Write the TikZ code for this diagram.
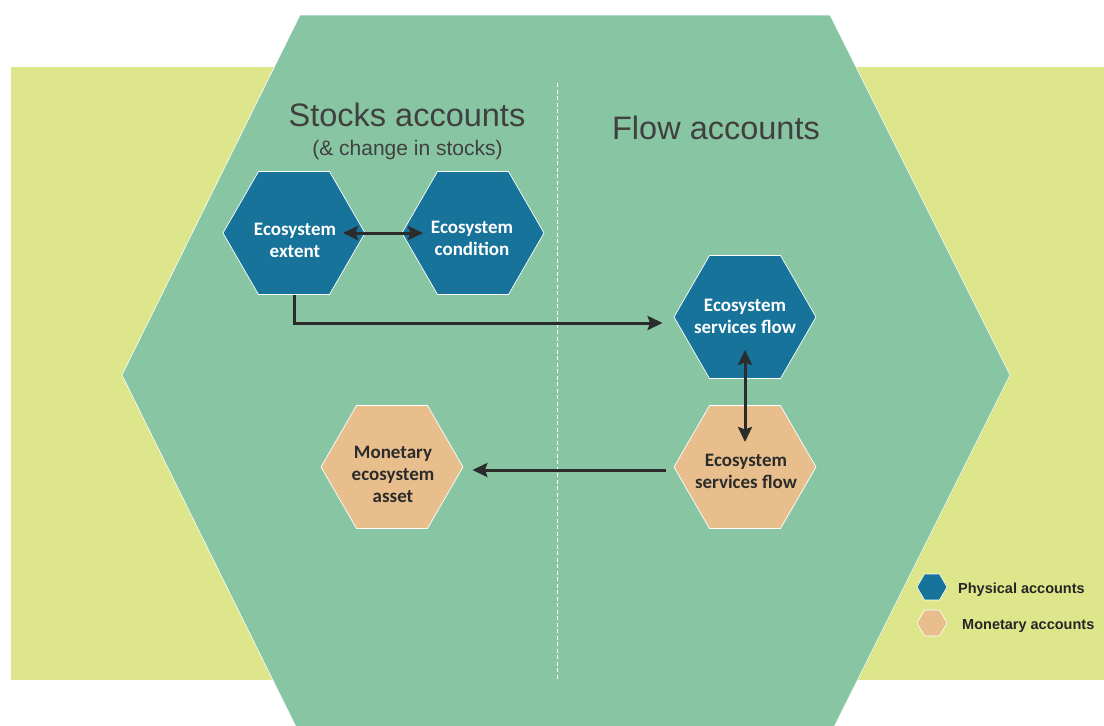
\documentclass[tikz,border=0pt]{standalone}
\usepackage{fontspec}
\setmainfont{Liberation Sans}
\newfontfamily\hexfont{Carlito}
\usetikzlibrary{shapes.geometric,arrows.meta,calc}
\definecolor{bgyellow}{HTML}{DDE68A}
\definecolor{biggreen}{HTML}{88C6A3}
\definecolor{physblue}{HTML}{18739A}
\definecolor{montan}{HTML}{E8BF8C}
\definecolor{arrowgray}{HTML}{2B2B2B}
\definecolor{titlegray}{HTML}{404040}
\tikzset{
  hexbox/.style={shape=regular polygon, regular polygon sides=6,
    minimum size=142pt, inner sep=0pt, draw=white, line width=0.7pt},
  physical/.style={hexbox, fill=physblue},
  monetary/.style={hexbox, fill=montan},
  legendhex/.style={shape=regular polygon, regular polygon sides=6,
    minimum size=30pt, inner sep=0pt, draw=white, line width=0.6pt},
  hexlabel/.style={align=center, inner sep=0pt, font=\hexfont\bfseries\fontsize{19}{22}\selectfont},
  conn/.style={draw=arrowgray, line width=3pt},
  tip/.style={-{Stealth[length=15pt,width=14pt,inset=2.5pt]}},
  bothtips/.style={{Stealth[length=15pt,width=14pt,inset=2.5pt]}-{Stealth[length=15pt,width=14pt,inset=2.5pt]}},
  legendtext/.style={anchor=base west, inner sep=0pt, text=black!85, font=\bfseries\fontsize{14.5}{16}\selectfont}
}
\begin{document}
\begin{tikzpicture}[x=1pt,y=-1pt]
\useasboundingbox (0,0) rectangle (1104,726);
\begin{scope}
\clip (0,0) rectangle (1104,726);
% background band
\fill[bgyellow] (11,67) rectangle (1104,680);
% big hexagon
\filldraw[fill=biggreen, draw=white, line width=0.6pt]
  (300,15) -- (830,15) -- (1010,375) -- (830,735) -- (300,735) -- (122,375) -- cycle;
\end{scope}
% divider
\draw[white, line width=1pt, dash pattern=on 4pt off 2.5pt] (557,83) -- (557,680);
% titles
\node[anchor=base, inner sep=0pt, text=titlegray, font=\fontsize{32.5}{36}\selectfont] (tstock) at (407,126) {Stocks accounts};
\node[anchor=base, inner sep=0pt, text=titlegray, font=\fontsize{21}{24}\selectfont] (tsub) at (407.5,155) {(\& change in stocks)};
\node[anchor=base, inner sep=0pt, text=titlegray, font=\fontsize{32.5}{36}\selectfont] (tflow) at (716,139) {Flow accounts};
% hexagons
\node[physical] (ext) at (294,233) {};
\node[physical] (cond) at (473,233) {};
\node[physical] (sfb) at (745,317) {};
\node[monetary] (sft) at (745,467) {};
\node[monetary] (mon) at (392,467) {};
% hexagon labels
\node[hexlabel, text=white] (lext) at (295,240) {Ecosystem\\extent};
\node[hexlabel, text=white] (lcond) at (472,238) {Ecosystem\\condition};
\node[hexlabel, text=white] (lsfb) at (745,316) {Ecosystem\\services flow};
\node[hexlabel, text=arrowgray] (lsft) at (746,471) {Ecosystem\\services flow};
\node[hexlabel, text=arrowgray] (lmon) at (393,474) {Monetary\\ecosystem\\asset};
% connectors
\coordinate (jn) at ($(sfb.west)+(-11,6)$);
\draw[conn, bothtips] ($(ext.center)+(49,0)$) -- ($(cond.center)+(-50,0)$);
\draw[conn, tip] (ext.south) |- (jn);
\draw[conn] ($(cond.south)+(-2,0)$) -- ($(cond.south)+(-2,0)$ |- jn);
\draw[conn, bothtips] ($(sfb.center)+(0,33)$) -- ($(sft.center)+(0,-25)$);
\draw[conn, tip] ($(sft.west)+(-8,3)$) -- ($(mon.east)+(9,3)$);
% legend
\node[legendhex, fill=physblue] (lgp) at (932,587) {};
\node[legendhex, fill=montan] (lgm) at (932,623) {};
\node[legendtext] (lgpt) at (958,593) {Physical accounts};
\node[legendtext] (lgmt) at (962,629) {Monetary accounts};
\end{tikzpicture}
\end{document}
